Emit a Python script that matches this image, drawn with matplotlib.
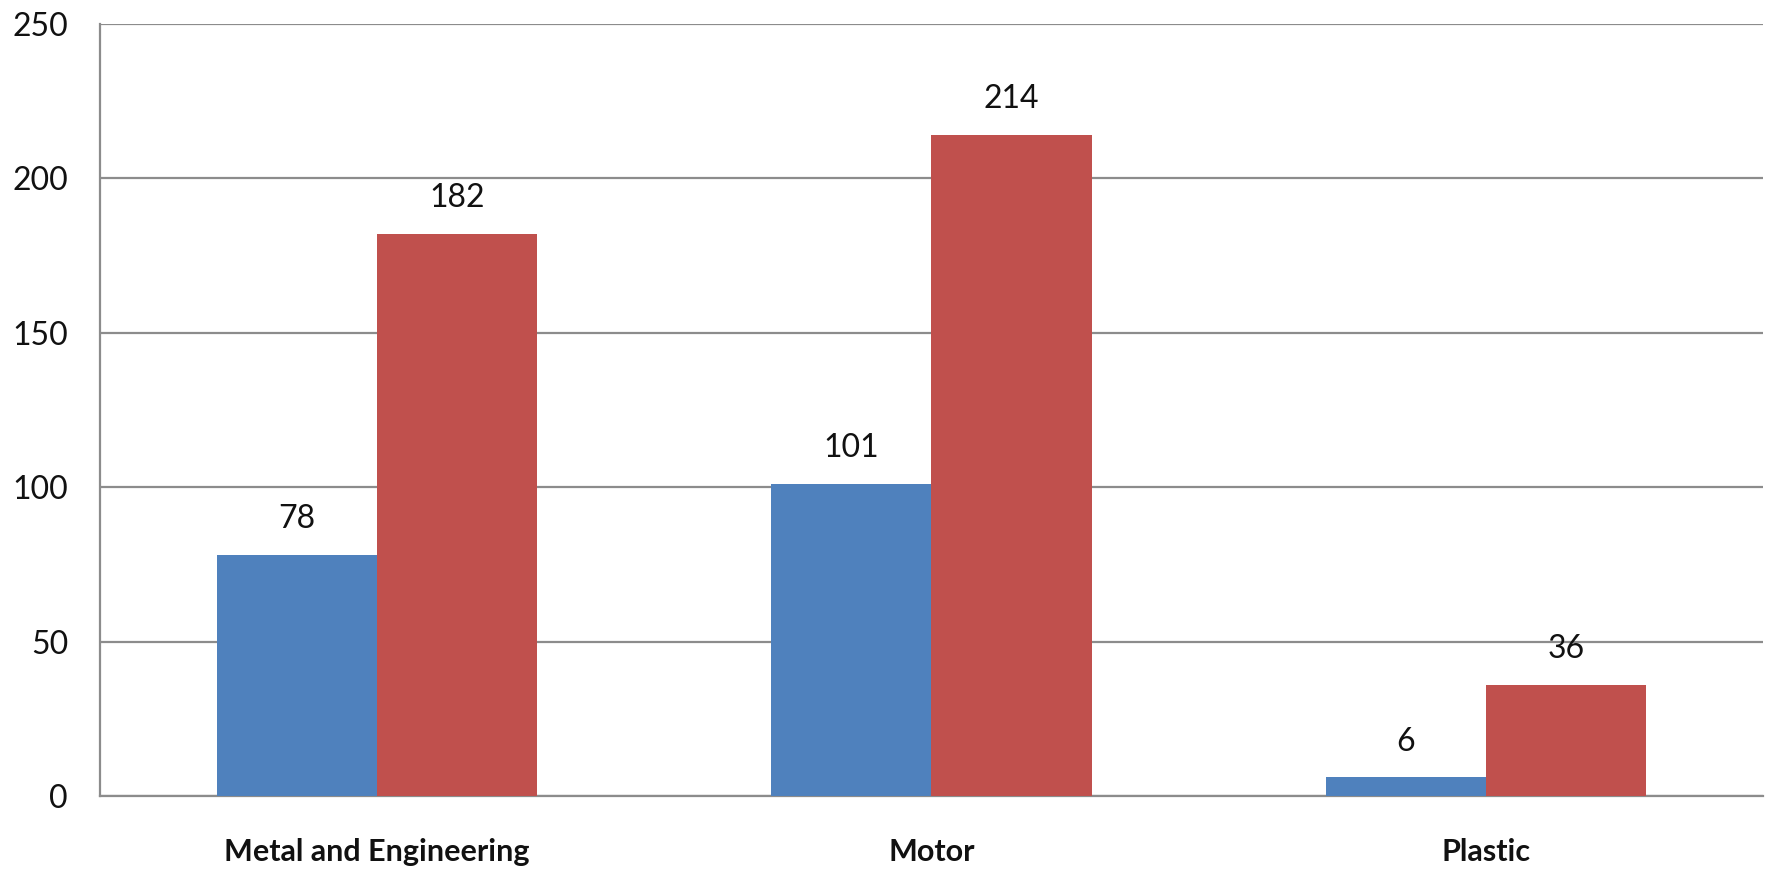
import numpy as np
from matplotlib import pyplot as plt

categories = ['Metal and Engineering', 'Motor', 'Plastic']
series_a = [78, 101, 6]
series_b = [182, 214, 36]
y_ticks = [0, 50, 100, 150, 200, 250]

plt.rcParams['font.family'] = ['Lato', 'DejaVu Sans']

fig = plt.figure(figsize=(17.72, 8.73), dpi=100)
ax = fig.add_axes([100 / 1772, 1 - 796 / 873, 1663 / 1772, 772 / 873])

x = np.arange(len(categories))
w = 0.289
bars_a = ax.bar(x - w / 2, series_a, w, color='#4F81BD', zorder=3)
bars_b = ax.bar(x + w / 2, series_b, w, color='#C0504D', zorder=3)

for bars in (bars_a, bars_b):
    ax.bar_label(bars, padding=15, fontsize=23, color='#111111')

ax.set_xlim(-0.5, 2.5)
ax.set_ylim(0, 250)
ax.set_yticks(y_ticks)
ax.yaxis.grid(True, color='#8c8c8c', linewidth=1.6, zorder=0)
ax.set_axisbelow(True)

for side in ['top', 'right']:
    ax.spines[side].set_visible(False)
for side in ['left', 'bottom']:
    ax.spines[side].set_color('#8c8c8c')
    ax.spines[side].set_linewidth(1.6)

ax.tick_params(axis='y', length=0, pad=23, labelsize=23, labelcolor='#111111')
ax.tick_params(axis='x', length=0, pad=30, labelsize=22, labelcolor='#111111')
ax.set_xticks(x)
ax.set_xticklabels(categories, fontweight='bold')

plt.savefig('out.png', dpi=100)
